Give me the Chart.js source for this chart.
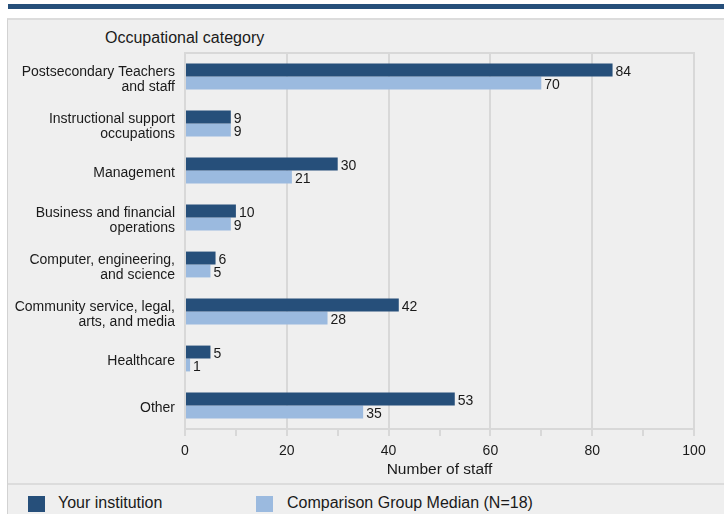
<!DOCTYPE html>
<html>
<head>
<meta charset="utf-8">
<script src="https://cdn.jsdelivr.net/npm/chart.js@4.4.1/dist/chart.umd.min.js"></script>
<style>
  body { margin: 0; background: #fff; font-family: "Liberation Sans", Arial, sans-serif; }
  #page { position: relative; width: 724px; height: 514px; overflow: hidden; }
  #band { position: absolute; left: 8px; top: 4px; width: 716px; height: 5px; background: #264f7a; }
  #panel { position: absolute; left: 7px; top: 18px; width: 717px; height: 496px; background: #efefef;
           border-left: 1px solid #d2d2d2; border-top: 2px solid #dcdcdc; box-sizing: border-box; }
  #sep { position: absolute; left: 8px; top: 483px; width: 716px; height: 2px; background: #dcdcdc; }
  #title { position: absolute; left: 105px; top: 29px; font-size: 16px; color: #1a1a1a; }
  #chartBox { position: absolute; left: 8px; top: 20px; width: 716px; height: 463px; }
  .sw { position: absolute; top: 496px; width: 17px; height: 16px; }
  .lg { position: absolute; top: 494px; font-size: 16px; color: #1a1a1a; line-height: 18px; }
</style>
</head>
<body>
<div id="page">
  <div id="band"></div>
  <div id="panel"></div>
  <div id="title">Occupational category</div>
  <div id="chartBox"><canvas id="chart" width="716" height="463"></canvas></div>
  <div id="sep"></div>
  <div class="sw" style="left:28px;background:#264f7a"></div>
  <div class="lg" style="left:58px">Your institution</div>
  <div class="sw" style="left:256px;background:#9bbadf"></div>
  <div class="lg" style="left:287px">Comparison Group Median (N=18)</div>
</div>
<script>
const categories = [
    ['Postsecondary Teachers', 'and staff'],
    ['Instructional support', 'occupations'],
    'Management',
    ['Business and financial', 'operations'],
    ['Computer, engineering,', 'and science'],
    ['Community service, legal,', 'arts, and media'],
    'Healthcare',
    'Other'
];
const yourInstitution = [84, 9, 30, 10, 6, 42, 5, 53];
const comparisonMedian = [70, 9, 21, 9, 5, 28, 1, 35];
const xTicks = [0, 20, 40, 60, 80, 100];

const FONT = '"Liberation Sans", Arial, sans-serif';
const GRID = '#d8d8d8';

// 数值标签 + 绘图区上边框
const extras = {
    id: 'extras',
    beforeDatasetsDraw(chart) {
        const { ctx, chartArea } = chart;
        ctx.save();
        ctx.strokeStyle = GRID;
        ctx.lineWidth = 2;
        ctx.beginPath();
        ctx.moveTo(chartArea.left, chartArea.top);
        ctx.lineTo(chartArea.right + 1, chartArea.top);
        ctx.stroke();
        ctx.restore();
    },
    afterDatasetsDraw(chart) {
        const ctx = chart.ctx;
        ctx.save();
        ctx.font = '14px ' + FONT;
        ctx.fillStyle = '#1a1a1a';
        ctx.textBaseline = 'middle';
        chart.data.datasets.forEach((ds, i) => {
            chart.getDatasetMeta(i).data.forEach((bar, j) => {
                ctx.fillText(ds.data[j], bar.x + 3, bar.y + 2);
            });
        });
        ctx.restore();
    }
};

new Chart(document.getElementById('chart'), {
    type: 'bar',
    data: {
        labels: categories,
        datasets: [{
            label: 'Your institution',
            data: yourInstitution,
            backgroundColor: '#264f7a',
            barPercentage: 1,
            categoryPercentage: 0.55
        }, {
            label: 'Comparison Group Median (N=18)',
            data: comparisonMedian,
            backgroundColor: '#9bbadf',
            barPercentage: 1,
            categoryPercentage: 0.55
        }]
    },
    options: {
        indexAxis: 'y',
        responsive: false,
        animation: false,
        layout: { padding: { top: 33, right: 30, left: 0, bottom: 0 } },
        plugins: { legend: { display: false }, tooltip: { enabled: false } },
        scales: {
            x: {
                min: 0,
                max: 100,
                afterBuildTicks(scale) {
                    scale.ticks = [];
                    for (let v = 0; v <= 100; v += 10) scale.ticks.push({ value: v });
                },
                afterFit(scale) { scale.height = 54; },
                ticks: {
                    autoSkip: false,
                    maxRotation: 0,
                    padding: 7,
                    color: '#1a1a1a',
                    font: { family: FONT, size: 14 },
                    callback: v => xTicks.includes(v) ? v : ''
                },
                grid: {
                    color: c => xTicks.includes(c.tick.value) ? GRID : 'rgba(0,0,0,0)',
                    tickColor: GRID,
                    lineWidth: 2,
                    tickLength: 7
                },
                border: { color: GRID, width: 2 },
                title: {
                    display: true,
                    text: 'Number of staff',
                    color: '#1a1a1a',
                    font: { family: FONT, size: 15.5 },
                    padding: { top: 0, bottom: 4 }
                }
            },
            y: {
                afterFit(scale) { scale.width = 177; },
                ticks: {
                    padding: 2,
                    labelOffset: 3,
                    color: '#1a1a1a',
                    font: { family: FONT, size: 14, lineHeight: 1.1 }
                },
                grid: { display: false },
                border: { color: GRID, width: 2 }
            }
        }
    },
    plugins: [extras]
});
</script>
</body>
</html>
